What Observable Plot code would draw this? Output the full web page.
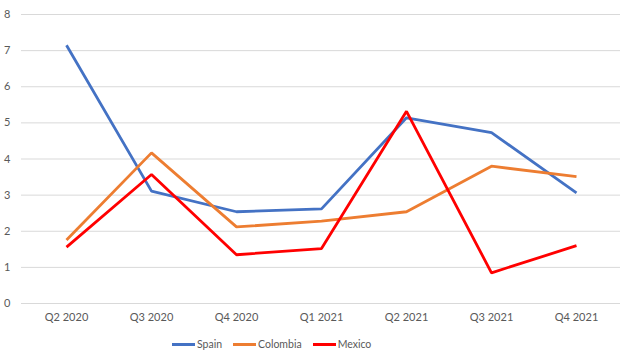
<!DOCTYPE html>
<html>
<head>
<meta charset="utf-8">
<script src="https://cdn.jsdelivr.net/npm/d3@7"></script>
<script src="https://cdn.jsdelivr.net/npm/@observablehq/plot@0.6"></script>
<style>
  body { margin: 0; background: #fff; font-family: Lato, "Open Sans", sans-serif; }
  #chart { width: 626px; }
  .legend { display: flex; justify-content: flex-start; gap: 11px; font-size: 10.5px; color: #595959; margin-top: 6px; padding-left: 172px; }
  .legend span { display: inline-flex; align-items: center; }
  .legend i { display: inline-block; width: 23px; height: 3px; margin-right: 2px; }
</style>
</head>
<body>
<div id="chart"></div>
<script>
const quarters = ["Q2 2020", "Q3 2020", "Q4 2020", "Q1 2021", "Q2 2021", "Q3 2021", "Q4 2021"];
const spain    = [7.15, 3.11, 2.54, 2.62, 5.14, 4.73, 3.06];
const colombia = [1.76, 4.17, 2.12, 2.28, 2.54, 3.80, 3.51];
const mexico   = [1.56, 3.57, 1.35, 1.52, 5.32, 0.85, 1.60];
const yTicks = [0, 1, 2, 3, 4, 5, 6, 7, 8];
const seriesNames = ["Spain", "Colombia", "Mexico"];
const seriesColors = ["#4472C4", "#ED7D31", "#FF0000"];

const seriesValues = [spain, colombia, mexico];
const data = seriesNames.flatMap((name, i) =>
  quarters.map((q, j) => ({ series: name, quarter: q, value: seriesValues[i][j] }))
);

const chart = Plot.plot({
  width: 626,
  height: 332,
  marginTop: 14,
  marginBottom: 29,
  marginLeft: 21,
  marginRight: 6,
  style: { fontFamily: "Lato, 'Open Sans', sans-serif", fontSize: "11px", color: "#595959", background: "#fff" },
  x: { type: "point", domain: quarters, padding: 0.5, label: null },
  y: { domain: [0, 8], ticks: yTicks, label: null },
  color: { domain: seriesNames, range: seriesColors },
  marks: [
    Plot.gridY(yTicks, { stroke: "#d9d9d9", strokeOpacity: 1, strokeWidth: 1 }),
    Plot.axisY(yTicks, { tickSize: 0, tickPadding: 11, label: null, fill: "#595959" }),
    Plot.axisX({ tickSize: 0, tickPadding: 10, label: null, fill: "#595959" }),
    Plot.line(data, { x: "quarter", y: "value", z: "series", stroke: "series", strokeWidth: 2.8, strokeLinejoin: "miter", strokeLinecap: "butt" })
  ]
});
document.getElementById("chart").appendChild(chart);

const legend = document.createElement("div");
legend.className = "legend";
seriesNames.forEach((n, i) => {
  const s = document.createElement("span");
  s.innerHTML = `<i style="background:${seriesColors[i]}"></i>${n}`;
  legend.appendChild(s);
});
document.getElementById("chart").appendChild(legend);
</script>
</body>
</html>
